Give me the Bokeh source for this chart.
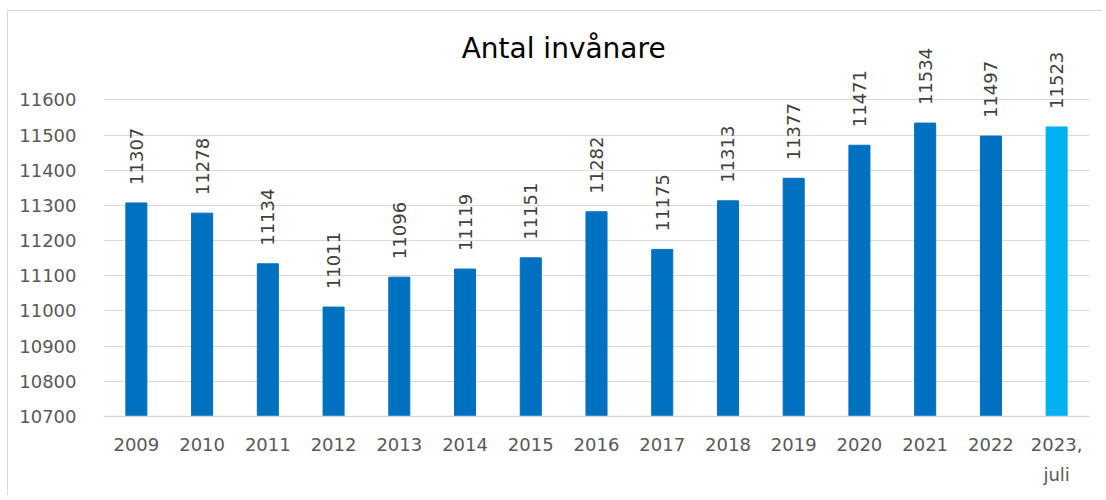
import numpy as np
from bokeh.plotting import figure
from bokeh.models import ColumnDataSource, FactorRange, Range1d, FixedTicker, Label
from bokeh.embed import file_html
from bokeh.resources import INLINE
from bokeh.core.properties import value

# ---- data ----
categories = ["2009", "2010", "2011", "2012", "2013", "2014", "2015", "2016",
              "2017", "2018", "2019", "2020", "2021", "2022", "2023,\njuli"]
population = [11307, 11278, 11134, 11011, 11096, 11119, 11151, 11282,
              11175, 11313, 11377, 11471, 11534, 11497, 11523]
y_ticks = [10700, 10800, 10900, 11000, 11100, 11200, 11300, 11400, 11500, 11600]
title_text = "Antal invånare"

BASE = "#0070C0"
HIGHLIGHT = "#00B0F0"
colors = [BASE] * (len(categories) - 1) + [HIGHLIGHT]

src = ColumnDataSource(dict(cat=categories, val=population, color=colors,
                            label=[str(v) for v in population]))

FONT = "DejaVu Sans"

p = figure(width=1095, height=485,
           x_range=FactorRange(factors=categories, range_padding=0),
           y_range=Range1d(10700, 11800),
           output_backend="svg", toolbar_location=None,
           min_border_left=95, min_border_right=14,
           min_border_top=18, min_border_bottom=80)

p.styles = {"margin-left": "7px", "margin-top": "10px",
            "border-left": "1px solid #d9d9d9", "border-top": "1px solid #d9d9d9"}

p.vbar(x="cat", top="val", bottom=y_ticks[0], width=0.32, color="color", source=src)

p.text(x="cat", y="val", text="label", angle=np.pi / 2, text_align="left",
       text_baseline="middle", y_offset=-18, text_font=value(FONT),
       text_font_size="18px", text_color="#404040", source=src)

p.add_layout(Label(x=7.0, y=11745, text=title_text, text_align="center",
                   text_baseline="alphabetic", text_font=FONT,
                   text_font_size="28px", text_color="#000000"))

p.outline_line_color = None
p.xgrid.visible = False
p.ygrid.ticker = FixedTicker(ticks=y_ticks)
p.ygrid.grid_line_color = "#d9d9d9"
p.ygrid.grid_line_width = 1

p.yaxis.ticker = FixedTicker(ticks=y_ticks)
p.yaxis.axis_line_color = None
p.yaxis.major_tick_line_color = None
p.yaxis.minor_tick_line_color = None
p.yaxis.major_label_standoff = 21
p.yaxis.major_label_text_font = FONT
p.yaxis.major_label_text_font_size = "18px"
p.yaxis.major_label_text_color = "#595959"

p.xaxis.axis_line_color = "#d9d9d9"
p.xaxis.axis_line_width = 1.5
p.xaxis.major_tick_line_color = None
p.xaxis.major_label_standoff = 11
p.xaxis.major_label_text_font = FONT
p.xaxis.major_label_text_font_size = "18px"
p.xaxis.major_label_text_color = "#595959"
p.xaxis.major_label_text_line_height = 1.45

open("out.html", "w").write(file_html(p, INLINE))
